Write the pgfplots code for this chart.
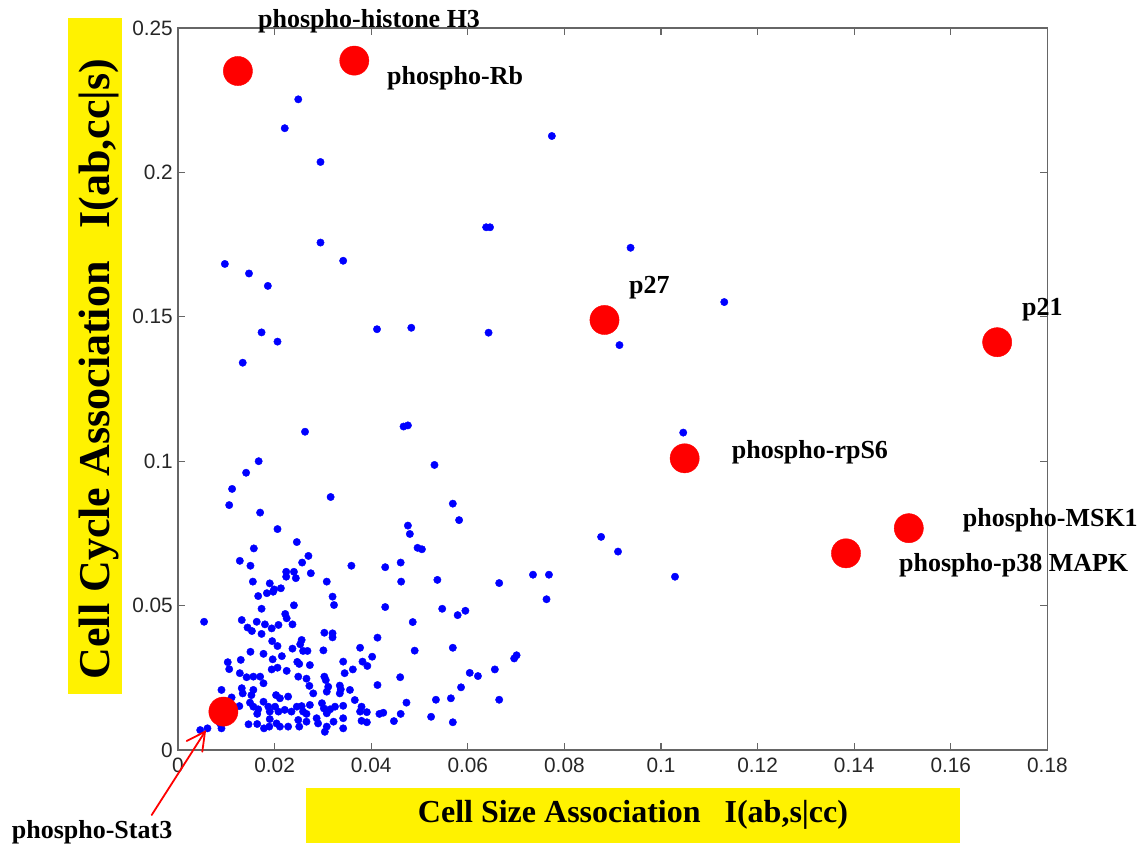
\documentclass[border=0pt]{standalone}
\usepackage{pgfplots}
\pgfplotsset{compat=1.18}
\usepackage{pgfplotstable}
\usepackage{fontspec}
\setmainfont{Liberation Serif}
\setsansfont{Liberation Sans}

% antibody readouts: cell size association vs cell cycle association
\pgfplotstableread{
x y
0.0249 0.2253
0.0221 0.2153
0.0295 0.2036
0.0774 0.2126
0.0638 0.1810
0.0646 0.1810
0.0937 0.1739
0.0295 0.1757
0.0342 0.1694
0.0097 0.1683
0.0147 0.1650
0.0186 0.1607
0.1131 0.1551
0.0173 0.1446
0.0206 0.1414
0.0412 0.1457
0.0483 0.1462
0.0643 0.1445
0.0914 0.1402
0.0134 0.1341
0.0263 0.1102
0.0467 0.1120
0.0476 0.1124
0.1046 0.1099
0.0167 0.1000
0.0141 0.0960
0.0112 0.0904
0.0106 0.0848
0.0316 0.0876
0.0531 0.0987
0.0170 0.0822
0.0206 0.0765
0.0569 0.0853
0.0582 0.0796
0.0476 0.0777
0.0480 0.0748
0.0246 0.0720
0.0157 0.0698
0.0496 0.0700
0.0505 0.0695
0.0270 0.0672
0.0257 0.0649
0.0128 0.0655
0.0150 0.0638
0.0359 0.0638
0.0429 0.0633
0.0461 0.0649
0.0224 0.0617
0.0240 0.0617
0.0275 0.0612
0.0876 0.0738
0.0911 0.0687
0.0735 0.0607
0.0768 0.0607
0.1029 0.0600
0.0537 0.0589
0.0665 0.0578
0.0763 0.0522
0.0547 0.0489
0.0579 0.0467
0.0595 0.0482
0.0569 0.0354
0.0696 0.0317
0.0701 0.0328
0.0604 0.0267
0.0621 0.0256
0.0656 0.0279
0.0586 0.0217
0.0534 0.0174
0.0565 0.0179
0.0665 0.0174
0.0524 0.0115
0.0569 0.0096
0.0224 0.0600
0.0244 0.0595
0.0155 0.0583
0.0190 0.0577
0.0199 0.0556
0.0213 0.0560
0.0184 0.0543
0.0197 0.0548
0.0308 0.0583
0.0462 0.0583
0.0166 0.0533
0.0320 0.0531
0.0323 0.0502
0.0240 0.0501
0.0173 0.0489
0.0429 0.0495
0.0222 0.0471
0.0225 0.0456
0.0054 0.0444
0.0132 0.0450
0.0163 0.0444
0.0144 0.0424
0.0153 0.0412
0.0173 0.0402
0.0180 0.0435
0.0194 0.0421
0.0208 0.0433
0.0237 0.0435
0.0486 0.0443
0.0303 0.0406
0.0320 0.0404
0.0320 0.0390
0.0413 0.0389
0.0195 0.0377
0.0206 0.0360
0.0256 0.0381
0.0253 0.0366
0.0150 0.0340
0.0177 0.0333
0.0215 0.0325
0.0237 0.0351
0.0259 0.0343
0.0268 0.0343
0.0301 0.0345
0.0377 0.0354
0.0402 0.0323
0.0490 0.0344
0.0103 0.0304
0.0106 0.0280
0.0130 0.0312
0.0128 0.0266
0.0196 0.0314
0.0194 0.0279
0.0206 0.0285
0.0225 0.0274
0.0247 0.0305
0.0251 0.0298
0.0273 0.0294
0.0342 0.0306
0.0362 0.0279
0.0382 0.0306
0.0392 0.0291
0.0345 0.0266
0.0142 0.0252
0.0156 0.0254
0.0170 0.0254
0.0177 0.0231
0.0090 0.0208
0.0132 0.0214
0.0134 0.0196
0.0156 0.0208
0.0249 0.0254
0.0266 0.0247
0.0272 0.0222
0.0303 0.0254
0.0306 0.0242
0.0311 0.0219
0.0308 0.0202
0.0335 0.0223
0.0335 0.0196
0.0337 0.0210
0.0356 0.0208
0.0280 0.0196
0.0413 0.0225
0.0460 0.0252
0.0111 0.0182
0.0127 0.0152
0.0152 0.0190
0.0149 0.0164
0.0156 0.0150
0.0166 0.0141
0.0164 0.0125
0.0177 0.0167
0.0187 0.0150
0.0190 0.0133
0.0203 0.0190
0.0211 0.0179
0.0228 0.0185
0.0201 0.0150
0.0208 0.0133
0.0221 0.0139
0.0235 0.0133
0.0246 0.0150
0.0256 0.0152
0.0273 0.0156
0.0259 0.0133
0.0266 0.0125
0.0298 0.0162
0.0302 0.0144
0.0308 0.0127
0.0315 0.0141
0.0325 0.0150
0.0342 0.0153
0.0366 0.0173
0.0380 0.0150
0.0377 0.0133
0.0391 0.0131
0.0417 0.0125
0.0425 0.0129
0.0473 0.0164
0.0461 0.0125
0.0146 0.0089
0.0164 0.0090
0.0178 0.0075
0.0190 0.0107
0.0204 0.0092
0.0189 0.0081
0.0211 0.0081
0.0228 0.0081
0.0249 0.0104
0.0251 0.0081
0.0266 0.0098
0.0287 0.0110
0.0290 0.0092
0.0308 0.0081
0.0304 0.0063
0.0322 0.0098
0.0342 0.0110
0.0342 0.0075
0.0380 0.0101
0.0391 0.0096
0.0447 0.0100
0.0087 0.0092
0.0090 0.0075
0.0046 0.0069
0.0061 0.0075
}\allreadouts

% highlighted readouts
\pgfplotstableread{
x y
0.0124 0.2351
0.0365 0.2387
0.0883 0.1489
0.1696 0.1412
0.1049 0.1010
0.1513 0.0768
0.1383 0.0681
0.0094 0.0133
}\highlighted

\begin{document}
\begin{tikzpicture}
\path (0pt,0pt) rectangle (1146pt,851pt);
% yellow backgrounds of the axis titles
\fill[yellow] (67.7pt,156.7pt) rectangle (121.7pt,833.3pt);
\fill[yellow] (306pt,7.7pt) rectangle (960pt,63.3pt);
\begin{axis}[
  at={(178pt,101pt)}, anchor=south west,
  scale only axis, width=869.4pt, height=722pt,
  xmin=0, xmax=0.18, ymin=0, ymax=0.25,
  clip=false,
  scaled ticks=false,
  xtick={0,0.02,0.04,0.06,0.08,0.1,0.12,0.14,0.16,0.18},
  xticklabels={0,0.02,0.04,0.06,0.08,0.1,0.12,0.14,0.16,0.18},
  ytick={0,0.05,0.1,0.15,0.2,0.25},
  yticklabels={0,0.05,0.1,0.15,0.2,0.25},
  tick pos=both, tick align=inside,
  major tick length=7pt,
  axis line style={black!60, line width=1.2pt},
  every tick/.style={black!60, line width=1.2pt},
  tick label style={font=\sffamily\fontsize{20.8}{21}\selectfont, text=black!85},
  xticklabel style={yshift=-4pt},
  yticklabel style={inner sep=2pt, xshift=-3pt},
]
\addplot[only marks, mark=*, mark size=3.7pt, color=blue, mark options={draw=none, fill=blue}]
  table[x=x, y=y] {\allreadouts};
\addplot[only marks, mark=*, mark size=14.6pt, color=red, mark options={draw=none, fill=red}]
  table[x=x, y=y] {\highlighted};
\end{axis}

% axis titles
\node[rotate=90, font=\bfseries\fontsize{44}{46}\selectfont] at (99pt,482pt)
  {Cell Cycle Association\ \ \ I(ab,cc|s)};
\node[font=\bfseries\fontsize{32}{34}\selectfont] at (633pt,36pt)
  {Cell Size Association\ \ \ I(ab,s|cc)};

% readout names
\tikzset{lbl/.style={anchor=base west, inner sep=0pt, font=\bfseries\fontsize{26}{28}\selectfont}}
\node[lbl] at (258pt,823.5pt) {phospho-histone H3};
\node[lbl] at (387pt,766pt) {phospho-Rb};
\node[lbl] at (629pt,557pt) {p27};
\node[lbl] at (1022pt,535pt) {p21};
\node[lbl] at (731.7pt,392pt) {phospho-rpS6};
\node[lbl] at (962.7pt,324pt) {phospho-MSK1};
\node[lbl] at (899pt,279pt) {phospho-p38 MAPK};
\node[lbl] at (11.7pt,12pt) {phospho-Stat3};
% pointer to the phospho-Stat3 readout
\draw[red, line width=1.8pt, line cap=round] (151.7pt,36pt) -- (205pt,119.3pt);
\draw[red, line width=1.8pt, line cap=round, line join=miter]
  (186.7pt,110pt) -- (205pt,119.3pt) -- (202.3pt,99.3pt);
\end{tikzpicture}
\end{document}
